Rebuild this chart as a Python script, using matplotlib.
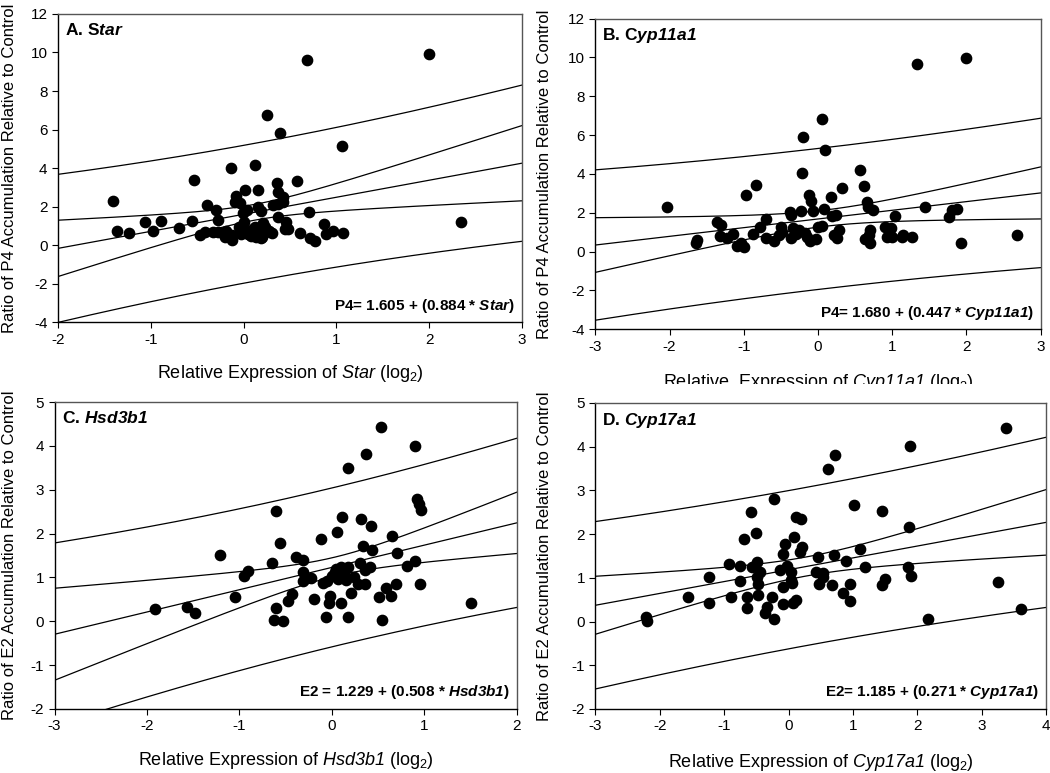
import matplotlib
matplotlib.use("Agg")
import matplotlib.pyplot as plt
import numpy as np
from matplotlib.patches import Rectangle

plt.rcParams['font.family'] = ['Liberation Sans', 'DejaVu Sans']
plt.rcParams['mathtext.fontset'] = 'custom'
plt.rcParams['mathtext.rm'] = 'Liberation Sans'
plt.rcParams['mathtext.it'] = 'Liberation Sans:italic'
plt.rcParams['mathtext.sf'] = 'Liberation Sans:italic'
plt.rcParams['mathtext.bf'] = 'Liberation Sans:bold'
plt.rcParams['mathtext.bfit'] = 'Liberation Sans:italic:bold'
plt.rcParams['axes.unicode_minus'] = False

# A. Star vs P4
star_x = [-1.41, -1.36, -1.23, -1.06, -0.98, -0.89, -0.70, -0.56, -0.53, -0.47, -0.42, -0.39,
          -0.33, -0.30, -0.28, -0.28, -0.20, -0.19, -0.14, -0.13, -0.12, -0.08, -0.09, -0.04,
          -0.03, -0.01, 0.00, 0.02, 0.04, 0.01, 0.05, 0.07, 0.12, 0.12, 0.13, 0.16, 0.16, 0.17,
          0.19, 0.19, 0.21, 0.23, 0.25, 0.27, 0.31, 0.32, 0.36, 0.37, 0.37, 0.37, 0.39, 0.42,
          0.42, 0.45, 0.46, 0.48, 0.57, 0.61, 0.68, 0.70, 0.72, 0.77, 0.87, 0.89, 0.96, 1.06,
          1.07, 2.00, 2.34, 0.08, 0.15, 0.22, 0.10, 0.20, -0.05]
star_y = [2.29, 0.76, 0.66, 1.23, 0.76, 1.25, 0.87, 1.27, 3.40, 0.54, 0.71, 2.08,
          0.71, 1.85, 0.71, 1.33, 0.42, 0.73, 4.00, 0.28, 0.54, 2.58, 2.24, 2.20,
          0.59, 1.66, 1.20, 2.88, 1.84, 0.76, 0.59, 0.76, 4.14, 0.94, 0.42, 2.88, 1.98, 0.76,
          1.77, 0.38, 1.14, 0.94, 6.74, 0.76, 0.66, 2.11, 3.22, 2.15, 1.49, 2.76, 5.84, 2.50,
          2.22, 0.85, 1.21, 0.85, 3.31, 0.64, 9.60, 1.73, 0.38, 0.21, 1.09, 0.59, 0.76, 5.16,
          0.62, 9.93, 1.18, 0.50, 0.55, 0.65, 0.85, 0.45, 0.95]

# B. Cyp11a1 vs P4
cyp11_x = [-2.04, -1.65, -1.63, -1.36, -1.30, -1.32, -1.22, -1.15, -1.09, -1.04, -1.00, -0.97,
           -0.87, -0.83, -0.78, -0.70, -0.70, -0.59, -0.52, -0.50, -0.48, -0.37, -0.36, -0.36,
           -0.33, -0.30, -0.26, -0.23, -0.22, -0.20, -0.18, -0.15, -0.12, -0.10, -0.11, -0.07,
           -0.02, 0.00, 0.05, 0.06, 0.08, 0.09, 0.18, 0.19, 0.24, 0.22, 0.26, 0.28, 0.33, 0.56,
           0.62, 0.66, 0.68, 0.64, 0.70, 0.69, 0.70, 0.74, 0.91, 0.93, 0.99, 1.00, 1.04, 1.13,
           1.15, 1.27, 1.34, 1.44, 1.76, 1.80, 1.88, 1.93, 1.99, 2.68]
cyp11_y = [2.28, 0.43, 0.60, 1.54, 1.37, 0.81, 0.69, 0.89, 0.29, 0.46, 0.25, 2.92,
           0.89, 3.45, 1.29, 1.66, 0.69, 0.57, 0.86, 1.29, 1.03, 2.04, 1.89, 0.69,
           1.22, 0.89, 1.11, 2.11, 4.03, 5.88, 0.94, 0.77, 2.92, 2.62, 0.57, 2.11,
           0.63, 1.29, 1.32, 6.81, 2.18, 5.23, 2.83, 1.84, 1.90, 0.84, 0.70, 1.11, 3.26, 4.20,
           3.38, 2.57, 2.32, 0.63, 1.11, 0.86, 0.43, 2.14, 1.25, 0.77, 1.22, 0.74, 1.84, 0.74,
           0.86, 0.74, 9.66, 2.28, 1.80, 2.14, 2.18, 0.43, 9.97, 0.84]

# C. Hsd3b1 vs E2
hsd_x = [-1.91, -1.57, -1.48, -1.21, -1.05, -0.95, -0.91, -0.65, -0.63, -0.60, -0.60, -0.56,
         -0.53, -0.47, -0.43, -0.39, -0.31, -0.31, -0.31, -0.22, -0.19, -0.12, -0.10, -0.05,
         -0.06, -0.03, -0.02, 0.00, 0.03, 0.05, 0.06, 0.07, 0.10, 0.11, 0.10, 0.13, 0.15, 0.17,
         0.17, 0.18, 0.21, 0.24, 0.28, 0.31, 0.32, 0.34, 0.36, 0.36, 0.37, 0.41, 0.42, 0.44,
         0.51, 0.53, 0.54, 0.59, 0.64, 0.65, 0.69, 0.71, 0.81, 0.90, 0.90, 0.92, 0.94, 0.96,
         0.95, 1.51]
hsd_y = [0.29, 0.33, 0.18, 1.52, 0.56, 1.04, 1.14, 1.32, 0.03, 2.51, 0.31, 1.78,
         0.01, 0.46, 0.62, 1.47, 1.39, 1.13, 0.92, 0.99, 0.51, 1.88, 0.88, 0.92,
         0.09, 0.41, 0.57, 1.04, 1.12, 1.20, 2.04, 0.97, 0.41, 2.38, 1.24, 1.10, 0.94, 3.49,
         1.24, 0.09, 0.65, 1.00, 0.86, 1.32, 2.34, 1.71, 0.86, 1.18, 3.81, 1.24, 2.18, 1.62,
         0.56, 4.43, 0.04, 0.77, 0.57, 1.94, 0.85, 1.55, 1.26, 1.37, 4.00, 2.80, 2.68, 2.55,
         0.85, 0.42]

# D. Cyp17a1 vs E2
cyp17_x = [-2.21, -2.20, -1.56, -1.23, -1.24, -0.93, -0.89, -0.75, -0.75, -0.69, -0.64, -0.64,
           -0.59, -0.57, -0.51, -0.49, -0.49, -0.48, -0.48, -0.44, -0.36, -0.34, -0.26, -0.23,
           -0.22, -0.13, -0.09, -0.08, -0.08, -0.05, -0.03, 0.03, 0.04, 0.05, 0.07, 0.09, 0.11,
           0.12, 0.19, 0.20, 0.18, 0.43, 0.45, 0.47, 0.53, 0.54, 0.61, 0.68, 0.71, 0.72, 0.84,
           0.89, 0.95, 0.96, 1.01, 1.11, 1.19, 1.45, 1.45, 1.49, 1.86, 1.87, 1.89, 1.90, 2.16,
           3.25, 3.37, 3.60]
cyp17_y = [0.11, 0.02, 0.55, 1.01, 0.43, 1.31, 0.57, 1.28, 0.92, 1.88, 0.57, 0.31,
           2.51, 1.25, 2.03, 1.37, 1.02, 0.86, 0.61, 1.14, 0.20, 0.33, 0.57, 0.05,
           2.81, 1.18, 1.54, 0.78, 0.40, 1.78, 1.27, 1.14, 0.95, 0.87, 0.43, 1.94, 2.38,
           0.50, 2.35, 1.71, 1.60, 1.14, 1.47, 0.86, 1.12, 1.02, 3.49, 0.84, 1.53, 3.80, 0.66,
           1.39, 0.86, 0.46, 2.66, 1.66, 1.24, 2.52, 0.84, 0.98, 1.24, 2.17, 4.01, 1.05, 0.05,
           0.90, 4.43, 0.28]

# regression coefficients printed on the panels
coefs = {'A': (1.605, 0.884), 'B': (1.680, 0.447), 'C': (1.229, 0.508), 'D': (1.185, 0.271)}
T_CRIT = 1.99

panels = [
    # key, x, y, rect, xlim, ylim, xticks, yticks, title, eq, xlabel, ylabel
    ('A', star_x, star_y, [0.0552, 0.583, 0.442, 0.399], (-2, 3), (-4, 12),
     range(-2, 4), range(-4, 13, 2), r'A. S$\mathbfit{tar}$',
     r'P4= 1.605 + (0.884 * $\mathbfit{Star}$)',
     r'Relative Expression of $\mathsf{Star}$ (log$_2$)',
     'Ratio of P4 Accumulation Relative to Control'),
    ('B', cyp11_x, cyp11_y, [0.567, 0.574, 0.424, 0.402], (-3, 3), (-4, 12),
     range(-3, 4), range(-4, 13, 2), r'B. C$\mathbfit{yp11a1}$',
     r'P4= 1.680 + (0.447 * $\mathbfit{Cyp11a1}$)',
     r'Relative  Expression of $\mathsf{Cyp11a1}$ (log$_2$)',
     'Ratio of P4 Accumulation Relative to Control'),
    ('C', hsd_x, hsd_y, [0.052, 0.0828, 0.44, 0.397], (-3, 2), (-2, 5),
     range(-3, 3), range(-2, 6), r'C. $\mathbfit{Hsd3b1}$',
     r'E2 = 1.229 + (0.508 * $\mathbfit{Hsd3b1}$)',
     r'Relative Expression of $\mathsf{Hsd3b1}$ (log$_2$)',
     'Ratio of E2 Accumulation Relative to Control'),
    ('D', cyp17_x, cyp17_y, [0.567, 0.0828, 0.4295, 0.396], (-3, 4), (-2, 5),
     range(-3, 5), range(-2, 6), r'D. $\mathbfit{Cyp17a1}$',
     r'E2= 1.185 + (0.271 * $\mathbfit{Cyp17a1}$)',
     r'Relative Expression of $\mathsf{Cyp17a1}$ (log$_2$)',
     'Ratio of E2 Accumulation Relative to Control'),
]

xlabel_y = {'A': -0.133, 'B': -0.138, 'C': -0.133, 'D': -0.14}
ylabel_x = {'A': -0.088, 'B': -0.097, 'C': -0.082, 'D': -0.097}

fig = plt.figure(figsize=(10.5, 7.73), dpi=100)

for key, xs, ys, rect, xlim, ylim, xt, yt, title, eq, xlab, ylab in panels:
    ax = fig.add_axes(rect)
    x = np.array(xs)
    y = np.array(ys)
    b0, b1 = coefs[key]

    # fit line with 95% confidence and prediction bands
    n = len(x)
    resid = y - (b0 + b1 * x)
    s = np.sqrt(np.sum(resid ** 2) / (n - 2))
    sxx = np.sum((x - x.mean()) ** 2)
    xx = np.linspace(xlim[0], xlim[1], 200)
    yy = b0 + b1 * xx
    se_fit = s * np.sqrt(1.0 / n + (xx - x.mean()) ** 2 / sxx)
    se_pred = s * np.sqrt(1.0 + 1.0 / n + (xx - x.mean()) ** 2 / sxx)
    ax.plot(xx, yy, color='black', lw=0.9)
    for sign in (-1, 1):
        ax.plot(xx, yy + sign * T_CRIT * se_fit, color='black', lw=0.9)
        ax.plot(xx, yy + sign * T_CRIT * se_pred, color='black', lw=0.9)

    ax.scatter(x, y, s=55, color='black', zorder=3, clip_on=False)

    ax.set_xlim(*xlim)
    ax.set_ylim(*ylim)
    ax.set_xticks(list(xt))
    ax.set_yticks(list(yt))
    ax.tick_params(direction='out', length=4, labelsize=11, top=False, right=False)
    for sp in ax.spines.values():
        sp.set_linewidth(1.0)
        sp.set_color('black')
    ax.spines['top'].set_color('#555555')
    ax.spines['right'].set_color('#555555')

    ax.text(0.015, 0.975, title, transform=ax.transAxes, ha='left', va='top',
            fontsize=12.5, fontweight='bold')
    ax.text(0.985, 0.025, eq, transform=ax.transAxes, ha='right', va='bottom',
            fontsize=11, fontweight='bold')

    ax.set_ylabel(ylab, fontsize=12)
    ax.yaxis.set_label_coords(ylabel_x[key], 0.5)
    ax.set_xlabel(xlab, fontsize=13)
    ax.xaxis.set_label_coords(0.5, xlabel_y[key])

# the top-right x label is cut by the panel border in the source figure
cover = Rectangle((0.53, 0.485), 0.47, 0.018, transform=fig.transFigure,
                  facecolor='white', edgecolor='none', zorder=10)
fig.add_artist(cover)

fig.savefig('out.png', dpi=100)
